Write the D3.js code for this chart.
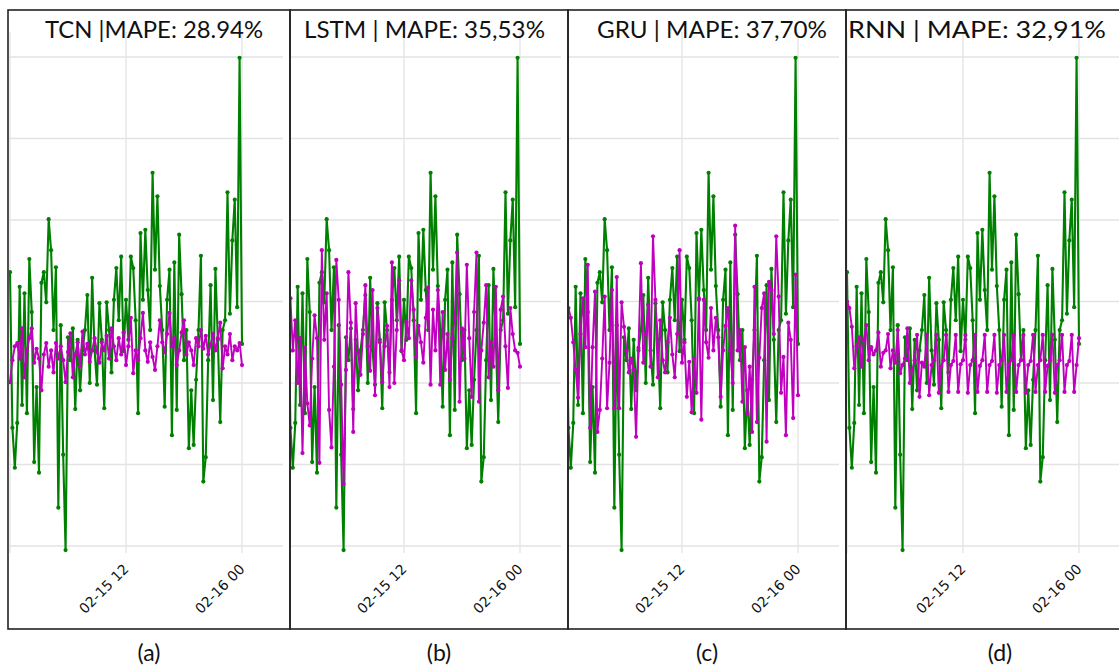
<!DOCTYPE html>
<html><head><meta charset="utf-8">
<script src="https://cdn.jsdelivr.net/npm/d3@7"></script>
<style>body{margin:0;background:#fff} svg{display:block}</style>
</head><body>
<svg id="chart" width="1119" height="669"></svg>
<script>
// ---------------- data ----------------
const titles = ["TCN |MAPE: 28.94%", "LSTM | MAPE: 35,53%", "GRU | MAPE: 37,70%", "RNN | MAPE: 32,91%"];
const panelLabels = ["(a)", "(b)", "(c)", "(d)"];
const startTime = "2024-02-15T00:00";
const stepMinutes = 15;
const tickTimes = ["2024-02-15T00:00", "2024-02-15T12:00", "2024-02-16T00:00"];
const tickLabels = ["", "02-15 12", "02-16 00"];
const yTicks = [0, 1, 2, 3, 4, 5, 6];

const actual = [
  3.36, 1.45, 0.96, 1.51, 3.18, 1.73, 3.10, 1.63, 3.52, 2.87,
  1.03, 1.95, 0.90, 3.23, 3.36, 2.99, 4.01, 3.63, 2.65, 3.42,
  0.47, 2.71, 1.12, -0.05, 2.56, 2.28, 2.67, 1.68, 2.53, 1.91,
  2.40, 2.65, 3.08, 2.00, 3.29, 2.40, 1.98, 2.98, 2.53, 1.69,
  2.99, 2.65, 2.13, 3.02, 3.41, 2.77, 3.55, 2.39, 3.02, 2.53,
  3.55, 3.41, 2.77, 1.63, 3.84, 3.02, 3.88, 3.14, 2.65, 4.58,
  3.39, 4.29, 3.19, 2.65, 1.71, 3.02, 3.39, 1.36, 3.48, 1.67,
  3.82, 3.09, 2.28, 2.65, 1.20, 1.91, 1.24, 2.04, 2.65, 3.56,
  0.79, 1.09, 2.28, 3.20, 1.79, 3.40, 2.53, 1.52, 2.65, 2.77,
  4.34, 2.85, 3.75, 4.25, 2.93, 5.99, 2.48
];
const predTCN = [
  2.01, 2.28, 2.45, 2.49, 2.30, 2.67, 2.07, 2.40, 2.55, 2.67,
  2.25, 2.42, 2.30, 1.91, 2.35, 2.49, 2.20, 2.40, 2.13, 2.49,
  2.30, 2.45, 2.28, 2.01, 2.38, 2.61, 2.07, 2.35, 2.50, 2.20,
  2.63, 2.35, 2.48, 2.26, 2.40, 2.55, 2.38, 2.25, 2.50, 2.40,
  2.58, 2.30, 2.67, 2.45, 2.28, 2.55, 2.35, 2.62, 2.22, 2.45,
  2.80, 2.12, 2.40, 2.28, 2.55, 2.86, 2.40, 2.26, 2.50, 2.32,
  2.16, 2.45, 2.77, 2.50, 2.38, 2.60, 2.86, 2.45, 2.55, 2.22,
  2.40, 2.62, 2.77, 2.35, 2.50, 2.40, 2.22, 2.55, 2.45, 2.65,
  2.42, 2.58, 2.35, 2.47, 2.60, 2.40, 2.55, 2.74, 2.18, 2.45,
  2.35, 2.60, 2.28, 2.45, 2.40, 2.49, 2.22
];
const predLSTM = [
  2.60, 3.04, 2.40, 2.77, 2.00, 2.55, 1.14, 2.43, 1.75, 1.48,
  2.30, 2.83, 2.55, 1.02, 3.63, 2.53, 3.10, 1.67, 1.21, 2.20,
  3.51, 3.02, 1.98, 0.76, 2.16, 3.36, 2.74, 1.40, 2.98, 2.37,
  2.10, 2.60, 3.20, 2.45, 2.15, 3.14, 1.85, 2.92, 2.50, 2.01,
  2.45, 2.70, 1.95, 3.48, 2.00, 2.65, 3.26, 2.40, 2.28, 2.75,
  2.55, 3.26, 2.90, 2.32, 2.70, 2.50, 2.25, 2.80, 3.17, 1.98,
  2.90, 2.40, 3.14, 1.98, 2.87, 2.16, 2.60, 2.04, 2.55, 2.80,
  3.60, 1.77, 2.67, 2.30, 3.45, 2.55, 1.83, 2.87, 3.60, 1.77,
  2.40, 2.74, 3.20, 2.07, 2.50, 2.20, 3.18, 1.91, 2.90, 3.06,
  2.45, 1.94, 2.92, 2.60, 2.40, 2.37, 2.20
];
const predGRU = [
  2.60, 2.92, 2.80, 2.50, 2.16, 1.82, 2.60, 3.04, 2.44, 3.45,
  1.45, 2.44, 3.12, 1.40, 1.67, 2.30, 3.06, 1.69, 2.25, 3.14,
  1.69, 3.30, 1.69, 2.99, 2.69, 2.40, 2.13, 2.30, 2.16, 1.34,
  2.43, 3.47, 2.25, 2.60, 2.96, 2.20, 3.80, 3.02, 2.07, 2.77,
  2.28, 2.13, 2.50, 2.80, 2.35, 2.07, 2.60, 3.63, 2.25, 2.50,
  1.83, 2.26, 1.64, 2.30, 1.88, 3.04, 1.55, 3.02, 2.50, 2.31,
  2.92, 2.40, 2.80, 2.56, 1.83, 2.40, 2.70, 2.92, 2.40, 2.00,
  3.93, 2.40, 2.65, 1.77, 2.44, 1.63, 2.20, 1.40, 3.18, 1.52,
  2.31, 2.92, 3.10, 1.28, 3.24, 3.14, 2.60, 3.80, 3.06, 1.88,
  2.32, 1.36, 2.74, 2.53, 1.57, 3.33, 1.85
];
const predRNN = [
  3.00, 2.92, 2.69, 2.18, 2.45, 2.56, 2.20, 2.53, 2.71, 2.28,
  2.44, 2.35, 2.40, 2.62, 2.20, 2.37, 2.40, 2.60, 2.18, 2.40,
  2.25, 2.65, 2.12, 2.22, 2.30, 2.67, 2.00, 2.16, 2.28, 2.59,
  1.83, 2.25, 2.20, 2.59, 1.85, 2.22, 2.28, 2.59, 1.88, 2.20,
  2.28, 2.59, 1.89, 2.22, 2.27, 2.59, 1.89, 2.23, 2.28, 2.59,
  1.88, 2.22, 2.28, 2.59, 1.89, 2.21, 2.28, 2.59, 1.89, 2.22,
  2.27, 2.59, 1.88, 2.22, 2.28, 2.59, 1.89, 2.23, 2.28, 2.59,
  1.89, 2.22, 2.28, 2.59, 1.88, 2.22, 2.27, 2.59, 1.89, 2.22,
  2.28, 2.59, 1.89, 2.21, 2.28, 2.59, 1.88, 2.22, 2.28, 2.59,
  1.89, 2.22, 2.27, 2.59, 1.89, 2.22, 2.55
];
const predictions = [predTCN, predLSTM, predGRU, predRNN];

// ---------------- layout ----------------
const panelX = [0, 278, 556, 837];
const frameL = [8, 290, 568, 846];
const frameR = [290, 568, 846, 1125];
const frameT = 10, frameB = 629;
const plotT = 32, plotB = 553, plotR = 283;
const titleX = [45, 304, 597, 848];
const titleW = [218, 241, 230, 258];
const labelX = [149, 439, 707, 1000];

const parse = d3.timeParse("%Y-%m-%dT%H:%M");
const t0 = parse(startTime);
const times = actual.map((_, i) => d3.timeMinute.offset(t0, i * stepMinutes));
const gridTimes = tickTimes.map(parse);

const x = d3.scaleTime().domain([gridTimes[0], gridTimes[2]]).range([10, 242]);
const y = d3.scaleLinear().domain([0, 6]).range([546, 57]);

const svg = d3.select("#chart");
svg.append("rect").attr("width", 1119).attr("height", 669).attr("fill", "#fff");

const line = d3.line().x((d, i) => x(times[i])).y(d => y(d));

predictions.forEach((pred, k) => {
  const left = frameL[k] - panelX[k];
  const g = svg.append("g").attr("transform", `translate(${panelX[k]},0)`);
  const clipId = "clip" + k;
  g.append("clipPath").attr("id", clipId).append("rect")
    .attr("x", left + 1).attr("y", plotT - 5).attr("width", plotR - left - 1).attr("height", plotB - plotT + 10);

  // gridlines
  const grid = g.append("g").attr("clip-path", `url(#${clipId})`);
  grid.selectAll("line.h").data(yTicks).join("line").attr("class", "h")
    .attr("x1", left).attr("x2", plotR).attr("y1", d => y(d)).attr("y2", d => y(d))
    .attr("stroke", "#e3e3e3").attr("stroke-width", 1.3);
  grid.selectAll("line.v").data(gridTimes).join("line").attr("class", "v")
    .attr("x1", d => x(d)).attr("x2", d => x(d)).attr("y1", plotT).attr("y2", plotB)
    .attr("stroke", "#e3e3e3").attr("stroke-width", 1.3);

  // x axis labels
  const ax = g.append("g").attr("transform", `translate(0,${plotB})`)
    .call(d3.axisBottom(x).tickValues(gridTimes).tickSize(0).tickFormat((d, i) => tickLabels[i]));
  ax.select(".domain").remove();
  ax.selectAll("text")
    .attr("x", 0).attr("y", 0).attr("dy", 0)
    .attr("transform", "translate(3,17) rotate(-45)")
    .attr("text-anchor", "end")
    .attr("font-family", "DejaVu Sans").attr("font-size", 14).attr("fill", "#111");

  // data
  const plot = g.append("g").attr("clip-path", `url(#${clipId})`);
  [[actual, "#008000", 2.1], [pred, "#bf00bf", 1.9]].forEach(([series, color, w]) => {
    plot.append("path").datum(series).attr("d", line)
      .attr("fill", "none").attr("stroke", color).attr("stroke-width", w).attr("stroke-linejoin", "round");
    plot.append("g").selectAll("circle").data(series).join("circle")
      .attr("cx", (d, i) => x(times[i])).attr("cy", d => y(d)).attr("r", 2.1).attr("fill", color);
  });

  // frame
  svg.append("rect").attr("x", frameL[k]).attr("y", frameT)
    .attr("width", frameR[k] - frameL[k]).attr("height", frameB - frameT)
    .attr("fill", "none").attr("stroke", "#222").attr("stroke-width", 1.6);

  // title
  svg.append("text").attr("x", titleX[k]).attr("y", 38)
    .attr("font-family", "Lato").attr("font-size", 22.5).attr("fill", "#111")
    .attr("textLength", titleW[k]).attr("lengthAdjust", "spacingAndGlyphs")
    .text(titles[k]);

  // panel label
  svg.append("text").attr("x", labelX[k]).attr("y", 661).attr("text-anchor", "middle")
    .attr("font-family", "Lato").attr("font-size", 23).attr("fill", "#111")
    .text(panelLabels[k]);
});
</script>
</body></html>
